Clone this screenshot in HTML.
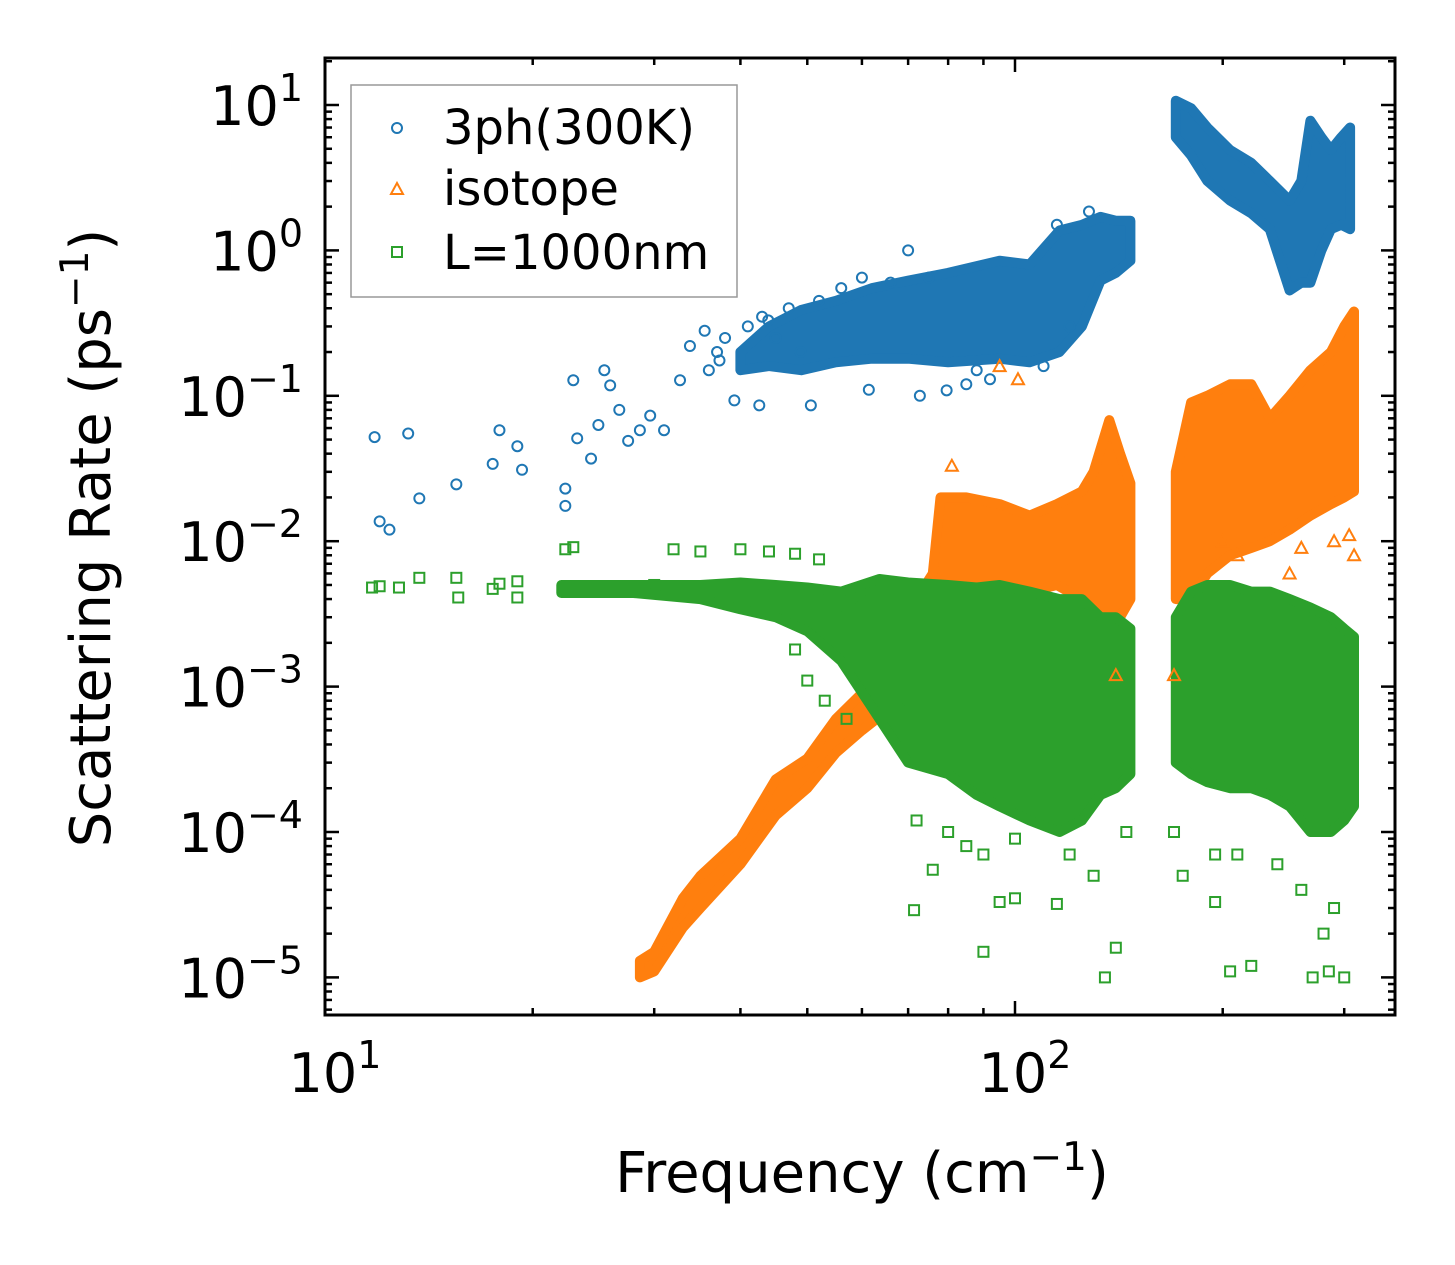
<!DOCTYPE html>
<html><head><meta charset="utf-8"><style>
html,body{margin:0;padding:0;background:#fff}
svg{display:block}
text{font-family:"DejaVu Sans","Liberation Sans",sans-serif;fill:#000}
</style></head><body>
<svg id="chart" width="1455" height="1265" viewBox="0 0 1455 1265" xmlns="http://www.w3.org/2000/svg">
<g id="bands"></g>
<g id="pts"></g>
<rect x="325" y="58" width="1070" height="957" fill="none" stroke="#000" stroke-width="3"/>
<g id="ticks"></g>
<text transform="translate(110,538) rotate(-90)" text-anchor="middle" font-size="56">Scattering Rate (ps<tspan dy="-22" font-size="39">−1</tspan><tspan dy="22">)</tspan></text>
<text x="862" y="1192" text-anchor="middle" font-size="56">Frequency (cm<tspan dy="-22" font-size="39">−1</tspan><tspan dy="22">)</tspan></text>
<g>
<rect x="351" y="85" width="386" height="212" fill="#fff" stroke="#999" stroke-width="1.5"/>
<circle cx="397" cy="128" r="5" fill="none" stroke="#1f77b4" stroke-width="2"/>
<text x="443" y="144" font-size="48">3ph(300K)</text>
<path d="M397 183 L403 194 L391 194 Z" fill="none" stroke="#ff7f0e" stroke-width="2"/>
<text x="443" y="205" font-size="48">isotope</text>
<rect x="392" y="247" width="10" height="10" fill="none" stroke="#2ca02c" stroke-width="2"/>
<text x="443" y="269" font-size="48">L=1000nm</text>
</g>
</svg>
<script>
// ---- data ----
const blueBandF=[40,44,49,55,62,70,80,95,105,116,125,133,140,147];
const blueBandLo=[0.15,0.16,0.15,0.17,0.18,0.18,0.17,0.18,0.17,0.2,0.3,0.62,0.7,0.85];
const blueBandHi=[0.2,0.3,0.39,0.45,0.55,0.62,0.7,0.85,0.8,1.37,1.5,1.7,1.6,1.6];
const blueBand2F=[171,180,190,205,220,234,250,260,268,278,287,297,306];
const blueBand2Lo=[6.0,4.5,3.0,2.2,1.8,1.4,0.53,0.6,0.6,1.0,1.4,1.5,1.4];
const blueBand2Hi=[10.7,9.5,7.0,4.9,4.0,3.0,2.2,3.0,7.8,6.0,4.9,6.0,7.0];
const blueF=[11.8,12.0,12.4,13.2,13.7,15.5,17.5,17.9,19.0,19.3,22.3,22.3,22.9,23.2,24.3,24.9,25.4,25.9,26.7,27.5,28.6,29.6,31.0,32.7,33.8,35.5,37.3,39.2,42.6,43.9,48.9,50.6,61.4,72.8,79.6,36,37,38,41,43,45,47,52,56,60,66,70,75,85,88,92,110,120,115,128];
const blueV=[0.052,0.0137,0.012,0.055,0.0197,0.0246,0.034,0.058,0.045,0.031,0.023,0.0175,0.128,0.051,0.037,0.063,0.15,0.118,0.08,0.049,0.058,0.073,0.058,0.128,0.22,0.28,0.175,0.093,0.086,0.33,0.2,0.086,0.11,0.1,0.109,0.15,0.2,0.25,0.3,0.35,0.25,0.4,0.45,0.55,0.65,0.6,1.0,0.65,0.12,0.15,0.13,0.16,0.3,1.5,1.85];
const orBandF=[28.6,30,33,35,40,45,50,55,60,63,68,72,76,78,85,95,105,115,125,130,137,142,147];
const orBandLo=[1.0e-5,1.1e-5,2.2e-5,3e-5,6e-5,1.3e-4,2e-4,3.5e-4,5e-4,6e-4,1.2e-3,2e-3,3e-3,0.004,0.004,0.004,0.0045,0.005,0.004,0.003,0.0025,0.003,0.004];
const orBandHi=[1.3e-5,1.5e-5,3.5e-5,5e-5,9e-5,2.3e-4,3.2e-4,6e-4,9e-4,1.2e-3,2.5e-3,4e-3,6e-3,0.02,0.02,0.018,0.015,0.018,0.022,0.03,0.068,0.04,0.025];
const orBand2F=[171,180,190,205,220,234,250,268,287,300,310];
const orBand2Lo=[0.004,0.004,0.006,0.008,0.009,0.01,0.012,0.015,0.018,0.02,0.022];
const orBand2Hi=[0.03,0.09,0.1,0.12,0.12,0.07,0.1,0.15,0.2,0.3,0.38];
const orF=[81,95,101,137,140,170,290,305,310,200,210,250,260];
const orV=[0.033,0.16,0.13,0.06,0.0012,0.0012,0.01,0.011,0.008,0.01,0.008,0.006,0.009];
const grBandF=[22,28,35,40,45,50,56,63.6,70,80,88,95,105,116,125,133,140,147];
const grBandLo=[0.0044,0.0044,0.004,0.0034,0.003,0.0024,0.0015,0.0006,0.0003,0.00025,0.00018,0.00015,0.00012,0.0001,0.00012,0.00018,0.0002,0.00025];
const grBandHi=[0.005,0.005,0.005,0.0052,0.005,0.0048,0.0045,0.0055,0.0052,0.005,0.0048,0.005,0.0045,0.004,0.004,0.003,0.003,0.0025];
const grBand2F=[171,180,190,205,220,234,250,268,287,300,310];
const grBand2Lo=[0.0003,0.00025,0.00022,0.0002,0.0002,0.00018,0.00015,0.0001,0.0001,0.00012,0.00015];
const grBand2Hi=[0.003,0.0045,0.005,0.005,0.0045,0.0045,0.004,0.0035,0.003,0.0025,0.0022];
const grF=[11.7,12.0,12.8,13.7,15.5,15.6,17.5,17.9,19.0,19.0,22.3,22.9,25,28,30,32,35,40,44,48,52,71.4,76,90,95,100,115,135,140,195,205,220,270,285,300,60,58,55,52,48,50,53,57,63,70,72,80,85,90,100,120,130,145,170,175,195,210,240,260,280,290];
const grV=[0.0048,0.0049,0.0048,0.0056,0.0056,0.0041,0.0047,0.0051,0.0053,0.0041,0.0088,0.0091,0.0048,0.0048,0.005,0.0088,0.0085,0.0088,0.0085,0.0082,0.0075,2.9e-5,5.5e-5,1.5e-5,3.3e-5,3.5e-5,3.2e-5,1.0e-5,1.6e-5,3.3e-5,1.1e-5,1.2e-5,1.0e-5,1.1e-5,1.0e-5,0.0045,0.0035,0.003,0.0025,0.0018,0.0011,0.0008,0.0006,0.0009,0.0007,0.00012,0.0001,0.00008,0.00007,0.00009,0.00007,0.00005,0.0001,0.0001,0.00005,0.00007,0.00007,0.00006,0.00004,0.00002,0.00003];
// ---- axes ----
const X0=325,DEC_X=690,Y0=105,DEC_Y=145.4;
function xs(f){return X0+(Math.log10(f)-1)*DEC_X;}
function ys(v){return Y0+(1-Math.log10(v))*DEC_Y;}
const NS='http://www.w3.org/2000/svg';
const bands=document.getElementById('bands'),pts=document.getElementById('pts'),ticks=document.getElementById('ticks');
function band(F,L,H,col,name){
  let d='M'+F.map((f,i)=>xs(f).toFixed(1)+' '+ys(H[i]).toFixed(1)).join(' L');
  for(let i=F.length-1;i>=0;i--)d+=' L'+xs(F[i]).toFixed(1)+' '+ys(L[i]).toFixed(1);
  const p=document.createElementNS(NS,'path');
  p.setAttribute('d',d+'Z');p.setAttribute('fill',col);p.setAttribute('stroke',col);p.setAttribute('stroke-width','10');p.setAttribute('stroke-linejoin','round');
  
  
  bands.appendChild(p);
}
band(blueBandF,blueBandLo,blueBandHi,'#1f77b4','3ph-cloud-low');
band(blueBand2F,blueBand2Lo,blueBand2Hi,'#1f77b4','3ph-cloud-high');
band(orBandF,orBandLo,orBandHi,'#ff7f0e','isotope-cloud-low');
band(orBand2F,orBand2Lo,orBand2Hi,'#ff7f0e','isotope-cloud-high');
band(grBandF,grBandLo,grBandHi,'#2ca02c','boundary-cloud-low');
band(grBand2F,grBand2Lo,grBand2Hi,'#2ca02c','boundary-cloud-high');
function marker(kind,f,v){
  const x=xs(f),y=ys(v);let el;
  if(kind==='c'){el=document.createElementNS(NS,'circle');el.setAttribute('cx',x);el.setAttribute('cy',y);el.setAttribute('r',5);el.setAttribute('stroke','#1f77b4');}
  else if(kind==='t'){el=document.createElementNS(NS,'path');el.setAttribute('d',`M${x} ${y-6}L${x+6} ${y+5}L${x-6} ${y+5}Z`);el.setAttribute('stroke','#ff7f0e');}
  else{el=document.createElementNS(NS,'rect');el.setAttribute('x',x-5);el.setAttribute('y',y-5);el.setAttribute('width',10);el.setAttribute('height',10);el.setAttribute('stroke','#2ca02c');}
  el.setAttribute('fill','none');el.setAttribute('stroke-width','2');
  
  
  pts.appendChild(el);
}
blueF.forEach((f,i)=>marker('c',f,blueV[i]));
orF.forEach((f,i)=>marker('t',f,orV[i]));
grF.forEach((f,i)=>marker('s',f,grV[i]));
function line(x1,y1,x2,y2){const l=document.createElementNS(NS,'line');l.setAttribute('x1',x1);l.setAttribute('y1',y1);l.setAttribute('x2',x2);l.setAttribute('y2',y2);l.setAttribute('stroke','#000');l.setAttribute('stroke-width','2.5');ticks.appendChild(l);}
function label(x,y,exp,anchor,name){
  const t=document.createElementNS(NS,'text');t.setAttribute('x',x);t.setAttribute('y',y);t.setAttribute('text-anchor',anchor);t.setAttribute('font-size','54');
  t.innerHTML='10<tspan dy="-24" font-size="38">'+exp+'</tspan>';
  
  
  ticks.appendChild(t);
}
const xTickExp=[1,2];
const yTickExp=[1,0,-1,-2,-3,-4,-5];
for(let d=1;d<=3;d++)for(let m=1;m<10;m++){const f=m*Math.pow(10,d);const x=xs(f);if(x<325||x>1395)continue;const L=m===1?14:7;line(x,1015,x,1015-L);line(x,58,x,58+L);}
xTickExp.forEach(e=>label(xs(Math.pow(10,e))+10,1092,e===1?'1':'2','middle','x-tick-label'));
for(let e=-6;e<=1;e++)for(let m=1;m<10;m++){const v=m*Math.pow(10,e);const y=ys(v);if(y<58||y>1015)continue;const L=m===1?14:7;line(325,y,325+L,y);line(1395,y,1395-L,y);}
yTickExp.forEach(e=>label(303,ys(Math.pow(10,e))+20,String(e).replace('-','−'),'end','y-tick-label'));
</script>
</body></html>
